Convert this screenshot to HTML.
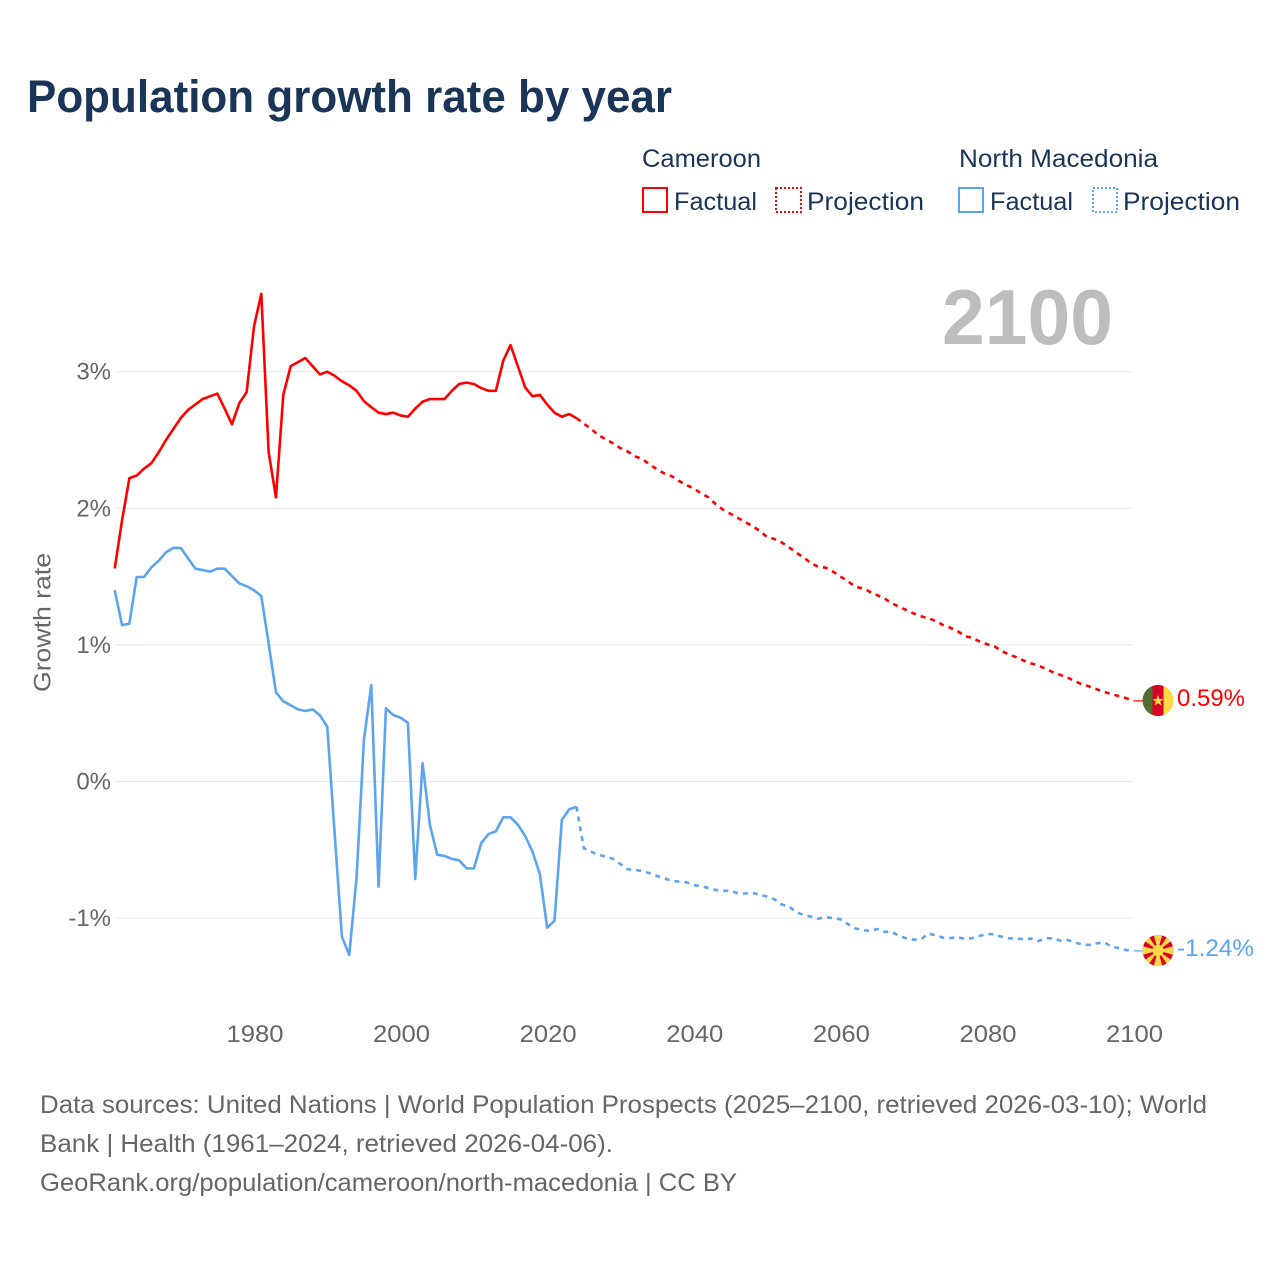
<!DOCTYPE html>
<html lang="en">
<head>
<meta charset="utf-8">
<title>Population growth rate by year</title>
<style>
html,body{margin:0;padding:0;background:#fff;}
svg{display:block;font-family:"Liberation Sans",sans-serif;}
</style>
</head>
<body>
<svg id="chart" width="1280" height="1280" viewBox="0 0 1280 1280" xmlns="http://www.w3.org/2000/svg">
  <rect x="0" y="0" width="1280" height="1280" fill="#fff"/>
  <text x="27" y="112" font-size="45" font-weight="700" fill="#1a3557" textLength="645" lengthAdjust="spacingAndGlyphs">Population growth rate by year</text>

  <g font-size="25" fill="#1a3557">
    <text x="642" y="167" textLength="119" lengthAdjust="spacingAndGlyphs">Cameroon</text>
    <text x="959" y="167" textLength="199" lengthAdjust="spacingAndGlyphs">North Macedonia</text>
    <rect x="643" y="188" width="24" height="24" fill="none" stroke="#ff0000" stroke-width="2"/>
    <text x="674" y="210" textLength="83" lengthAdjust="spacingAndGlyphs">Factual</text>
    <rect x="776" y="188" width="25" height="24" fill="none" stroke="#ff0000" stroke-width="2" stroke-dasharray="2 2"/>
    <text x="807" y="210" textLength="117" lengthAdjust="spacingAndGlyphs">Projection</text>
    <rect x="959" y="188" width="24" height="24" fill="none" stroke="#5ca4ee" stroke-width="2"/>
    <text x="990" y="210" textLength="83" lengthAdjust="spacingAndGlyphs">Factual</text>
    <rect x="1093" y="188" width="24" height="24" fill="none" stroke="#5ca4ee" stroke-width="2" stroke-dasharray="2 2"/>
    <text x="1123" y="210" textLength="117" lengthAdjust="spacingAndGlyphs">Projection</text>
  </g>

  <text x="942" y="344" font-size="78" font-weight="700" fill="#bdbdbd" textLength="171" lengthAdjust="spacingAndGlyphs">2100</text>

  <g id="grid"></g>
  <g id="yticks" font-size="24" fill="#666"></g>
  <g id="xticks" font-size="24" fill="#666"></g>
  <text transform="translate(50.5,692) rotate(-90)" font-size="24" fill="#666" textLength="139" lengthAdjust="spacingAndGlyphs">Growth rate</text>

  <g id="series"></g>

  <g id="flag-cameroon">
    <clipPath id="clipA"><circle cx="1158" cy="700.5" r="15.5"/></clipPath>
    <g clip-path="url(#clipA)">
      <rect x="1142" y="685" width="11" height="31" fill="#4f6f2d"/>
      <rect x="1152.5" y="685" width="11" height="31" fill="#d80027"/>
      <rect x="1163.5" y="685" width="10" height="31" fill="#ffda44"/>
      <polygon points="1158,695 1159.5,699 1163.5,699 1160.3,701.6 1161.5,705.6 1158,703.2 1154.5,705.6 1155.7,701.6 1152.5,699 1156.5,699" fill="#ffda44"/>
    </g>
  </g>
  <g id="flag-macedonia">
    <clipPath id="clipB"><circle cx="1158" cy="950.5" r="15.5"/></clipPath>
    <g clip-path="url(#clipB)">
      <rect x="1142" y="934" width="32" height="33" fill="#d80027"/>
      <g fill="#ffda44">
        <polygon points="1153.5,934 1162.5,934 1158,950"/>
        <polygon points="1153.5,967 1162.5,967 1158,950"/>
        <polygon points="1142,946 1142,955 1158,950.5"/>
        <polygon points="1174,946 1174,955 1158,950.5"/>
        <polygon points="1142,939 1147,934 1158,950.5"/>
        <polygon points="1174,939 1169,934 1158,950.5"/>
        <polygon points="1142,962 1147,967 1158,950.5"/>
        <polygon points="1174,962 1169,967 1158,950.5"/>
        <circle cx="1158" cy="950.5" r="5.6"/>
      </g>
    </g>
  </g>

  <text x="1177" y="706" font-size="24" fill="#ff0000" textLength="68" lengthAdjust="spacingAndGlyphs">0.59%</text>
  <text x="1177" y="956" font-size="24" fill="#5ca4ee" textLength="77" lengthAdjust="spacingAndGlyphs">-1.24%</text>

  <g font-size="25" fill="#666">
    <text x="40" y="1113" textLength="1167" lengthAdjust="spacingAndGlyphs">Data sources: United Nations | World Population Prospects (2025–2100, retrieved 2026-03-10); World</text>
    <text x="40" y="1152" textLength="573" lengthAdjust="spacingAndGlyphs">Bank | Health (1961–2024, retrieved 2026-04-06).</text>
    <text x="40" y="1191" textLength="697" lengthAdjust="spacingAndGlyphs">GeoRank.org/population/cameroon/north-macedonia | CC BY</text>
  </g>
</svg>
<script>
const factualStartYear = 1961;
const projectionStartYear = 2025;
const xTickYears = [1980, 2000, 2020, 2040, 2060, 2080, 2100];
const yTickValues = [3, 2, 1, 0, -1];
const yTickLabels = ["3%", "2%", "1%", "0%", "-1%"];

const cameroonFactual = [1.56,1.91,2.22,2.24,2.29,2.33,2.41,2.50,2.58,2.66,2.72,2.76,2.80,2.82,2.84,2.73,2.615,2.77,2.85,3.33,3.57,2.41,2.08,2.83,3.04,3.07,3.10,3.04,2.98,3.00,2.97,2.93,2.90,2.86,2.785,2.74,2.70,2.69,2.70,2.68,2.67,2.73,2.78,2.80,2.80,2.80,2.86,2.91,2.92,2.91,2.88,2.86,2.86,3.08,3.195,3.04,2.885,2.82,2.83,2.76,2.70,2.67,2.69,2.66];
const cameroonProjection = [2.62,2.58,2.535,2.505,2.475,2.44,2.415,2.38,2.36,2.32,2.285,2.255,2.235,2.20,2.17,2.145,2.11,2.08,2.03,1.99,1.96,1.93,1.90,1.87,1.835,1.79,1.775,1.75,1.714,1.675,1.64,1.597,1.572,1.565,1.536,1.50,1.468,1.426,1.414,1.39,1.365,1.34,1.305,1.28,1.255,1.23,1.21,1.195,1.175,1.145,1.125,1.10,1.065,1.05,1.025,1.005,0.99,0.955,0.93,0.91,0.885,0.865,0.85,0.825,0.80,0.78,0.76,0.735,0.71,0.695,0.675,0.655,0.64,0.625,0.61,0.59];
const macedoniaFactual = [1.40,1.145,1.155,1.497,1.497,1.567,1.616,1.678,1.71,1.71,1.634,1.558,1.548,1.536,1.558,1.558,1.504,1.45,1.43,1.40,1.358,1.01,0.653,0.587,0.558,0.528,0.516,0.528,0.485,0.40,-0.377,-1.136,-1.27,-0.70,0.304,0.706,-0.77,0.536,0.487,0.467,0.43,-0.714,0.133,-0.318,-0.536,-0.545,-0.567,-0.577,-0.636,-0.636,-0.452,-0.384,-0.365,-0.262,-0.262,-0.316,-0.399,-0.514,-0.677,-1.07,-1.019,-0.282,-0.204,-0.184];
const macedoniaProjection = [-0.489,-0.514,-0.538,-0.548,-0.567,-0.604,-0.643,-0.648,-0.655,-0.672,-0.692,-0.709,-0.728,-0.733,-0.738,-0.758,-0.767,-0.78,-0.794,-0.80,-0.80,-0.818,-0.82,-0.816,-0.829,-0.843,-0.862,-0.90,-0.916,-0.957,-0.977,-0.99,-1.004,-0.994,-0.999,-1.009,-1.043,-1.075,-1.087,-1.094,-1.08,-1.10,-1.10,-1.13,-1.148,-1.158,-1.155,-1.114,-1.126,-1.143,-1.146,-1.14,-1.153,-1.146,-1.13,-1.116,-1.119,-1.136,-1.148,-1.15,-1.155,-1.15,-1.168,-1.148,-1.148,-1.165,-1.16,-1.18,-1.192,-1.197,-1.185,-1.177,-1.21,-1.22,-1.234,-1.24];

const SVG_NS = "http://www.w3.org/2000/svg";
function xScale(year) { return 114.7 + (year - 1961) * 7.33; }
function yScale(v) { return 781.5 - v * 136.6; }
function pointsFor(start, values) {
  return values.map(function (v, i) {
    return xScale(start + i).toFixed(2) + "," + yScale(v).toFixed(2);
  });
}

const gridGroup = document.getElementById("grid");
const yGroup = document.getElementById("yticks");
yTickValues.forEach(function (v, i) {
  const line = document.createElementNS(SVG_NS, "line");
  
  
  line.setAttribute("x1", 115);
  line.setAttribute("x2", 1133);
  line.setAttribute("y1", yScale(v));
  line.setAttribute("y2", yScale(v));
  line.setAttribute("stroke", "#e8e8e8");
  line.setAttribute("stroke-width", "1");
  gridGroup.appendChild(line);
  const t = document.createElementNS(SVG_NS, "text");
  
  
  t.setAttribute("x", 111);
  t.setAttribute("y", yScale(v) + 8);
  t.setAttribute("text-anchor", "end");
  t.textContent = yTickLabels[i];
  yGroup.appendChild(t);
});

const xGroup = document.getElementById("xticks");
xTickYears.forEach(function (year) {
  const t = document.createElementNS(SVG_NS, "text");
  
  
  t.setAttribute("x", xScale(year) + 1);
  t.setAttribute("y", 1042);
  t.setAttribute("text-anchor", "middle");
  t.setAttribute("textLength", "57");
  t.setAttribute("lengthAdjust", "spacingAndGlyphs");
  t.textContent = String(year);
  xGroup.appendChild(t);
});

const seriesGroup = document.getElementById("series");
function addPolyline(points, color, dashed, name) {
  const p = document.createElementNS(SVG_NS, "polyline");
  
  
  p.setAttribute("points", points.join(" "));
  p.setAttribute("fill", "none");
  p.setAttribute("stroke", color);
  p.setAttribute("stroke-width", "2.6");
  p.setAttribute("stroke-linejoin", "round");
  if (dashed) { p.setAttribute("stroke-dasharray", "5 5"); }
  seriesGroup.appendChild(p);
}
function addLeader(lastValue, color, name) {
  const l = document.createElementNS(SVG_NS, "line");
  
  
  l.setAttribute("x1", xScale(2100));
  l.setAttribute("x2", 1143);
  l.setAttribute("y1", yScale(lastValue));
  l.setAttribute("y2", yScale(lastValue));
  l.setAttribute("stroke", color);
  l.setAttribute("stroke-width", "1.2");
  seriesGroup.appendChild(l);
}
const cf = pointsFor(factualStartYear, cameroonFactual);
const cp = pointsFor(projectionStartYear, cameroonProjection);
const mf = pointsFor(factualStartYear, macedoniaFactual);
const mp = pointsFor(projectionStartYear, macedoniaProjection);
addPolyline(cf, "#ff0000", false, "cameroon-factual-line");
addPolyline([cf[cf.length - 1]].concat(cp), "#ff0000", true, "cameroon-projection-line");
addPolyline(mf, "#5ca4ee", false, "macedonia-factual-line");
addPolyline([mf[mf.length - 1]].concat(mp), "#5ca4ee", true, "macedonia-projection-line");
addLeader(cameroonProjection[cameroonProjection.length - 1], "#ff0000", "cameroon-leader-line");
addLeader(macedoniaProjection[macedoniaProjection.length - 1], "#5ca4ee", "macedonia-leader-line");
</script>
</body>
</html>
